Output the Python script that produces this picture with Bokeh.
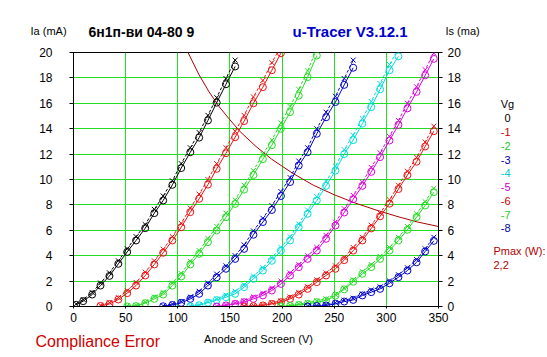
from bokeh.plotting import figure
from bokeh.models import Range1d, LinearAxis, SingleIntervalTicker, Label
from bokeh.layouts import column, row
from bokeh.embed import file_html
from bokeh.resources import INLINE

# ---- data -------------------------------------------------------------
# anode/screen voltage sweep points (V)
va_steps = [2.6, 9.3, 17.9, 25.9, 34.5, 43.0, 51.5, 60.0, 68.8, 77.5,
            86.0, 94.8, 103.3, 112.0, 120.5, 128.9, 137.3, 146.2, 155.0, 163.6,
            172.5, 181.6, 190.2, 198.9, 207.7, 216.0, 224.5, 233.3, 242.2, 251.2,
            259.6, 268.2, 277.0, 285.5, 294.0, 303.0, 311.6, 320.2, 329.0, 337.2,
            345.5]

vg_labels = ["0", "-1", "-2", "-3", "-4", "-5", "-6", "-7", "-8"]
# index into va_steps where each grid-voltage curve begins
vg_start = [0, 3, 6, 10, 13, 16, 19, 23, 26]

# Ia (mA), circle series
ia_vg0 = [0.13, 0.42, 0.94, 1.65, 2.41, 3.36, 4.3, 5.2, 6.17, 7.35, 8.35, 9.58,
          10.9, 12.15, 13.3, 14.65, 16.05, 17.5, 18.9]
ia_vg1 = [0.05, 0.2, 0.55, 1.05, 1.65, 2.44, 3.31, 4.23, 5.2, 6.24, 7.43, 8.48,
          9.6, 10.84, 12.07, 13.33, 14.6, 16.0, 17.27, 18.6, 19.95]
ia_vg2 = [0.0, 0.03, 0.26, 0.6, 0.94, 1.65, 2.36, 3.31, 4.15, 5.07, 5.99, 7.03,
          8.08, 9.2, 10.35, 11.6, 12.7, 14.0, 15.3, 16.6, 18.06, 19.76]
ia_vg3 = [0.02, 0.12, 0.29, 0.6, 1.0, 1.65, 2.3, 2.97, 3.75, 4.54, 5.65, 6.65,
          7.6, 8.7, 9.8, 11.1, 12.15, 13.6, 14.9, 16.1, 17.45, 18.8]
ia_vg4 = [0.0, 0.1, 0.3, 0.5, 0.73, 1.0, 1.52, 2.18, 2.83, 3.6, 4.4, 5.2, 6.25,
          7.3, 8.35, 9.5, 10.7, 12.0, 13.1, 14.4, 15.7, 17.1, 18.6, 19.7]
ia_vg5 = [0.0, 0.08, 0.2, 0.34, 0.6, 0.87, 1.26, 1.78, 2.44, 3.1, 3.75, 4.4, 5.33,
          6.38, 7.4, 8.45, 9.5, 10.6, 11.76, 13.07, 14.3, 15.6, 16.9, 18.2, 19.5]
ia_vg6 = [0.0, 0.03, 0.08, 0.2, 0.34, 0.6, 0.94, 1.39, 1.92, 2.44, 2.97, 3.65,
          4.4, 5.2, 6.15, 7.1, 8.1, 9.25, 10.35, 11.4, 12.6, 13.8]
ia_vg7 = [0.0, 0.05, 0.12, 0.2, 0.34, 0.47, 0.85, 1.35, 1.95, 2.57, 3.1, 3.75,
          4.41, 5.2, 6.04, 7.04, 7.95, 9.0]
ia_vg8 = [0.0, 0.03, 0.08, 0.21, 0.39, 0.52, 0.87, 1.13, 1.39, 1.83, 2.31, 2.83,
          3.48, 4.33, 5.17]

# Is (mA), cross series
is_vg0 = [0.2, 0.55, 1.1, 1.85, 2.65, 3.6, 4.55, 5.5, 6.45, 7.65, 8.7, 9.9,
          11.25, 12.5, 13.7, 15.05, 16.45, 17.95, 19.4]
is_vg1 = [0.1, 0.3, 0.7, 1.25, 1.9, 2.7, 3.6, 4.5, 5.5, 6.55, 7.75, 8.85, 10.0,
          11.25, 12.5, 13.8, 15.05, 16.5, 17.8, 19.2, 20.5]
is_vg2 = [0.05, 0.1, 0.35, 0.75, 1.1, 1.85, 2.6, 3.55, 4.4, 5.35, 6.3, 7.35, 8.4,
          9.55, 10.7, 12.0, 13.1, 14.45, 15.75, 17.1, 18.55, 20.3]
is_vg3 = [0.05, 0.2, 0.4, 0.75, 1.2, 1.85, 2.55, 3.2, 4.0, 4.85, 5.95, 6.95, 7.95,
          9.05, 10.15, 11.45, 12.5, 14.0, 15.3, 16.55, 17.95, 19.4]
is_vg4 = [0.05, 0.15, 0.4, 0.6, 0.9, 1.2, 1.7, 2.4, 3.05, 3.85, 4.65, 5.5, 6.5,
          7.6, 8.65, 9.85, 11.05, 12.35, 13.5, 14.8, 16.15, 17.55, 19.05, 20.3]
is_vg5 = [0.03, 0.15, 0.3, 0.45, 0.75, 1.05, 1.45, 2.0, 2.65, 3.3, 4.0, 4.65, 5.6,
          6.65, 7.7, 8.75, 9.8, 10.95, 12.1, 13.4, 14.65, 16.0, 17.3, 18.65, 19.95]
is_vg6 = [0.03, 0.08, 0.15, 0.3, 0.45, 0.75, 1.1, 1.55, 2.1, 2.65, 3.2, 3.85,
          4.65, 5.45, 6.4, 7.35, 8.4, 9.55, 10.65, 11.75, 12.95, 14.2]
is_vg7 = [0.03, 0.1, 0.2, 0.3, 0.45, 0.6, 0.95, 1.45, 2.1, 2.75, 3.3, 3.95, 4.65,
          5.45, 6.3, 7.3, 8.25, 9.3]
is_vg8 = [0.03, 0.08, 0.15, 0.3, 0.5, 0.65, 1.0, 1.3, 1.55, 2.0, 2.5, 3.05, 3.7,
          4.55, 5.45]

# Pmax = 2.2 W limit curve
pmax_label = "2,2"
pmax_v = [108, 120, 130, 140, 150, 160, 175, 190, 210, 230, 250, 270, 290, 310, 330, 350]
pmax_i = [20.3, 18.3, 16.9, 15.7, 14.7, 13.75, 12.6, 11.6, 10.5, 9.55, 8.8, 8.15,
          7.6, 7.1, 6.65, 6.3]

x_ticks_step = 50
y_ticks_step = 2

ia_series = [ia_vg0, ia_vg1, ia_vg2, ia_vg3, ia_vg4, ia_vg5, ia_vg6, ia_vg7, ia_vg8]
is_series = [is_vg0, is_vg1, is_vg2, is_vg3, is_vg4, is_vg5, is_vg6, is_vg7, is_vg8]

# ---- styles / layout --------------------------------------------------
line_colors = ["#000000", "#ee1111", "#22dd22", "#0000cc", "#00dddd",
               "#dd00dd", "#ee1111", "#22dd22", "#0000cc"]
text_colors = ["#000000", "#cc0000", "#22cc22", "#0000aa", "#00cccc",
               "#cc00cc", "#cc0000", "#22cc22", "#0000aa"]
FONT = "Liberation Sans"

TOTAL_W = 547
TOP_H = 44          # page rows 0..44  : title texts
MAIN_W = 480        # page cols 0..480 : chart
MAIN_B = 330        # page rows 44..330: chart
BOT_B = 357         # page rows 330..357: bottom texts
FL, FR, FT, FB = 73, 438, 52, 306   # frame edges in page pixels


def text_panel(x0, x1, y0, y1):
    # helper canvas whose data coordinates equal page pixels (y grows downward)
    f = figure(width=x1 - x0, height=y1 - y0, output_backend="svg",
               toolbar_location=None, x_range=Range1d(x0, x1),
               y_range=Range1d(y1, y0), min_border=0,
               x_axis_location=None, y_axis_location=None)
    f.grid.visible = False
    f.outline_line_color = None
    f.background_fill_color = "white"
    f.border_fill_color = "white"
    return f


def lab(f, text, xp, yp, color="black", size="11px", style="normal", align="left"):
    f.add_layout(Label(x=xp, y=yp, text=text, text_color=color,
                       text_font=FONT, text_font_size=size, text_font_style=style,
                       text_align=align, text_baseline="middle"))


# main chart
p = figure(width=MAIN_W, height=MAIN_B - TOP_H, output_backend="svg",
           toolbar_location=None, x_range=Range1d(0, 350), y_range=Range1d(0, 20),
           min_border_left=FL, min_border_right=MAIN_W - FR,
           min_border_top=FT - TOP_H, min_border_bottom=MAIN_B - FB)
p.background_fill_color = "white"
p.border_fill_color = "white"
p.outline_line_color = "black"
p.outline_line_width = 1

xt = SingleIntervalTicker(interval=x_ticks_step, num_minor_ticks=0)
yt = SingleIntervalTicker(interval=y_ticks_step, num_minor_ticks=0)
p.xaxis.ticker = xt
p.yaxis.ticker = yt
p.xgrid.ticker = xt
p.ygrid.ticker = yt
for g in (p.xgrid, p.ygrid):
    g.grid_line_color = "#22dd22"
    g.grid_line_width = 1
    g.grid_line_alpha = 1.0

right = LinearAxis(ticker=SingleIntervalTicker(interval=y_ticks_step, num_minor_ticks=0))
p.add_layout(right, "right")

for ax in (p.xaxis[0], p.yaxis[0], right):
    ax.axis_line_color = "black"
    ax.major_tick_line_color = "black"
    ax.minor_tick_line_color = None
    ax.major_tick_in = 0
    ax.major_label_text_font = FONT
    ax.major_label_text_font_size = "12px"
    ax.major_label_text_color = "black"
p.xaxis.major_tick_out = 2
p.xaxis.major_label_standoff = 4
p.yaxis[0].major_tick_out = 4
p.yaxis[0].major_label_standoff = 17
right.major_tick_out = 4
right.major_label_standoff = 5

p.line(pmax_v, pmax_i, line_color="#b00000", line_width=1)

for k in range(len(vg_labels)):
    s = vg_start[k]
    ia = ia_series[k]
    isc = is_series[k]
    v = va_steps[s:s + len(ia)]
    c = line_colors[k]
    p.line(v, isc, line_color=c, line_width=1, line_dash="3 2")
    p.scatter(v, isc, marker="x", size=7, line_color=c, line_width=1)
    p.line(v, ia, line_color=c, line_width=1)
    p.scatter(v, ia, marker="circle", size=7, line_color=c, fill_color=None, line_width=1)

# title row
top = text_panel(0, TOTAL_W, 0, TOP_H)
lab(top, "Ia (mA)", 30, 30)
lab(top, "6н1п-ви 04-80 9", 88, 31, size="14px", style="bold")
lab(top, "u-Tracer V3.12.1", 292, 31, color="#0000cc", size="15px", style="bold")
lab(top, "Is (ma)", 445, 30)

# right legend column
side = text_panel(MAIN_W, TOTAL_W, TOP_H, MAIN_B)
lab(side, "Vg", 507, 102, align="center")
row_y = [118, 133.5, 149, 164.5, 180, 195.5, 211, 226.5, 242]
for k, t in enumerate(vg_labels):
    lab(side, t, 510, row_y[k], color=text_colors[k], align="right")
lab(side, "Pmax (W):", 493, 267, color="#b00000")
lab(side, pmax_label, 493, 283, color="#b00000")

# bottom row
bot = text_panel(0, TOTAL_W, MAIN_B, BOT_B)
lab(bot, "Anode and Screen (V)", 258, 338, align="center")
lab(bot, "Compliance Error", 35, 341, color="#d00000", size="16px")

layout = column(top, row(p, side), bot)
open("out.html", "w").write(file_html(layout, INLINE))
